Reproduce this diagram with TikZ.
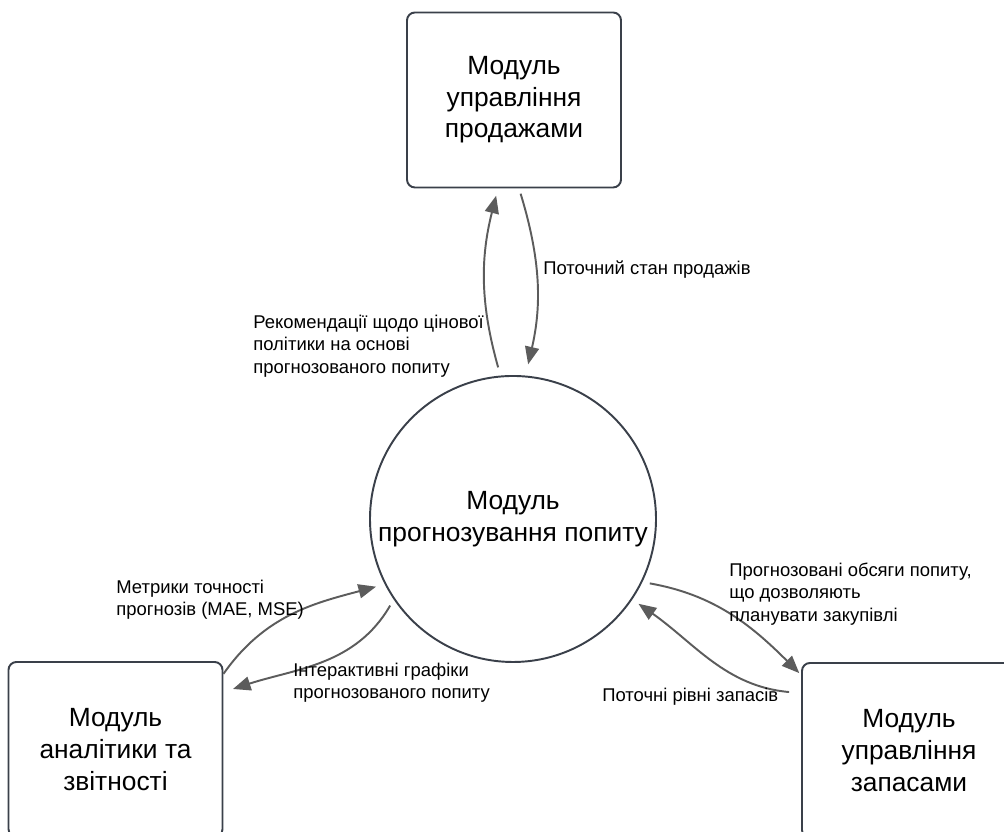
\documentclass[tikz,border=0pt]{standalone}
\usepackage{fontspec}
\setmainfont{Liberation Sans}
\usetikzlibrary{arrows.meta}
\definecolor{edgeline}{HTML}{3A404A}
\definecolor{flowgray}{HTML}{5C5C5C}

\begin{document}
\begin{tikzpicture}[
    module/.style={draw=edgeline,line width=1.1pt,rounded corners=4.5pt,
      minimum width=4.28cm,minimum height=3.5cm,align=center,
      font=\fontsize{15}{18}\selectfont},
    hub/.style={draw=edgeline,line width=1.1pt,circle,minimum size=5.72cm,
      inner sep=0pt,align=center,font=\fontsize{15}{18}\selectfont},
    flow/.style={draw=flowgray,line width=1.1pt,-{Triangle[length=10pt,width=8pt]}},
    note/.style={anchor=west,align=left,inner sep=0pt,
      font=\fontsize{10.5}{12.8}\selectfont}
  ]
  \useasboundingbox (0,0) rectangle (20.08,16.64);
  \clip (0,0) rectangle (20.08,16.64);

  \node[module] (sales) at (10.28,14.64) {Модуль\\управління\\продажами};
  \node[hub] (forecast) at (10.26,6.26) {Модуль\\прогнозування попиту};
  \node[module] (analytics) at (2.31,1.65) {Модуль\\аналітики та\\звітності};
  \node[module] (stock) at (18.18,1.63) {Модуль\\управління\\запасами};

  \draw[flow,shorten <=0.17cm,shorten >=0.15cm] (forecast.95) to[bend left=15] ([xshift=-0.32cm]sales.south);
  \draw[flow,shorten <=0.11cm,shorten >=0.23cm] ([xshift=0.1cm]sales.south) to[bend left=15] (forecast.85);
  \draw[flow,shorten >=0.18cm] (analytics.35) to[out=55,in=195] (forecast.207);
  \draw[flow,shorten <=0.14cm,shorten >=0.2cm] (forecast.214) to[out=240,in=18] (analytics.28);
  \draw[flow,shorten <=0.15cm,shorten >=0.05cm] (forecast.-26) to[out=-10,in=135] (stock.145);
  \draw[flow,shorten <=0.24cm,shorten >=0.15cm] (stock.152) to[out=175,in=-35] (forecast.-34);

  \node[note] (salesstate) at (10.86,11.24) {Поточний стан продажів};
  \node[note] (pricing) at (5.06,9.72) {Рекомендації щодо цінової\\політики на основі\\прогнозованого попиту};
  \node[note] (metrics) at (2.32,4.65) {Метрики точності\\прогнозів (MAE, MSE)};
  \node[note] (charts) at (5.86,2.99) {Інтерактивні графіки\\прогнозованого попиту};
  \node[note] (volumes) at (14.58,4.76) {Прогнозовані обсяги попиту,\\що дозволяють\\планувати закупівлі};
  \node[note] (levels) at (12.04,2.70) {Поточні рівні запасів};
\end{tikzpicture}
\end{document}
